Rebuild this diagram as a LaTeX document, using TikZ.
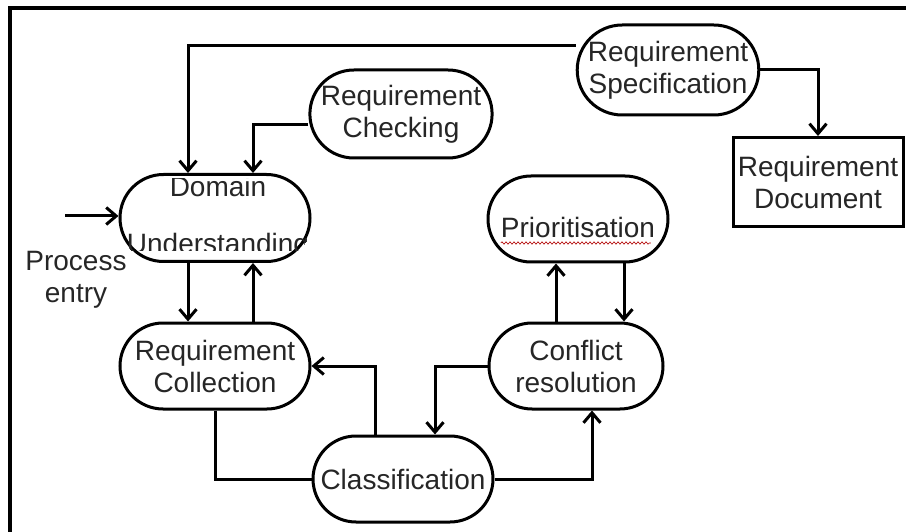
\documentclass[tikz,border=0pt]{standalone}
\usepackage{fontspec}
\setmainfont{Liberation Sans}
\usetikzlibrary{shapes.misc,arrows.meta,decorations.pathmorphing}
\begin{document}
\begin{tikzpicture}[x=1pt,y=-1pt,
  every node/.style={font=\fontsize{28}{32}\selectfont,text=black!85},
  stadium/.style={draw,line width=3pt,rounded rectangle,fill=white,inner sep=0pt,align=center},
  docbox/.style={draw,line width=3pt,rectangle,fill=white,inner sep=0pt,align=center},
  conn/.style={line width=3pt},
  arr/.style={line width=3pt,-{Straight Barb[length=10pt,width=17pt,line width=3pt]}}]
\useasboundingbox (0,0) rectangle (906,532);
\draw[line width=4pt] (10,532) -- (10,8) -- (906,8);
% connector x positions
\coordinate (c1) at (188,0);
\coordinate (c2) at (253,0);
\coordinate (c3) at (375,0);
\coordinate (c4) at (435,0);
\coordinate (c5) at (592,0);
\coordinate (c6) at (556,0);
\coordinate (c7) at (624,0);
\coordinate (c8) at (0,46);
\coordinate (c9) at (0,125);
\coordinate (pe) at (65,216);
% nodes
\node[stadium,minimum width=180pt,minimum height=90pt] (spec) at (668,70) {Requirement\\Specification};
\node[stadium,minimum width=178pt,minimum height=88pt] (check) at (401,114) {Requirement\\Checking};
\node[stadium,minimum width=190pt,minimum height=87pt] (dom) at (215,218) {};
\node[stadium,minimum width=190pt,minimum height=86pt] (col) at (215,366) {Requirement\\Collection};
\node[stadium,minimum width=180pt,minimum height=86pt] (cls) at (403,479) {Classification};
\node[stadium,minimum width=174pt,minimum height=86pt] (conf) at (576,366) {Conflict\\resolution};
\node[stadium,minimum width=180pt,minimum height=86pt] (prio) at (578,219) {};
\node[docbox,minimum width=170pt,minimum height=89pt] (doc) at (818,182) {Requirement\\Document};
\node[align=center] (proc) at (76,280) {Process\\entry};
% clipped text of Domain Understanding
\begin{scope}
  \clip[rounded corners=43pt] (dom.west |- dom.south) rectangle (dom.east |- dom.north);
  \clip (100,179) rectangle (330,251);
  \node[anchor=base,inner sep=0pt] (domt1) at (218,197) {Domain};
  \node[anchor=base,inner sep=0pt] (domt2) at (218,254) {Understanding};
\end{scope}
% Prioritisation text with spell-check squiggle
\node[anchor=base,inner sep=0pt] (priot) at (578,238) {Prioritisation};
\draw[red!70!black,line width=0.6pt,decorate,decoration={snake,amplitude=1.2pt,segment length=4pt}]
  (priot.base west) ++(0,5) -- ++(150,0);
% connectors
\draw[arr] (spec.west |- c8) -| (dom.north -| c1);
\draw[arr] (spec.east) -| (doc.north);
\draw[arr] (check.west |- c9) -| (dom.north -| c2);
\draw[arr] (pe) -- (dom.west |- pe);
\draw[arr] (dom.south -| c1) -- (col.north -| c1);
\draw[arr] (col.north -| c2) -- (dom.south -| c2);
\draw[conn] (col.south) |- (cls.west);
\draw[arr] (cls.north -| c3) |- (col.east);
\draw[arr] (conf.west) -| (cls.north -| c4);
\draw[arr] (cls.east) -| (conf.south -| c5);
\draw[arr] (conf.north -| c6) -- (prio.south -| c6);
\draw[arr] (prio.south -| c7) -- (conf.north -| c7);
\end{tikzpicture}
\end{document}
